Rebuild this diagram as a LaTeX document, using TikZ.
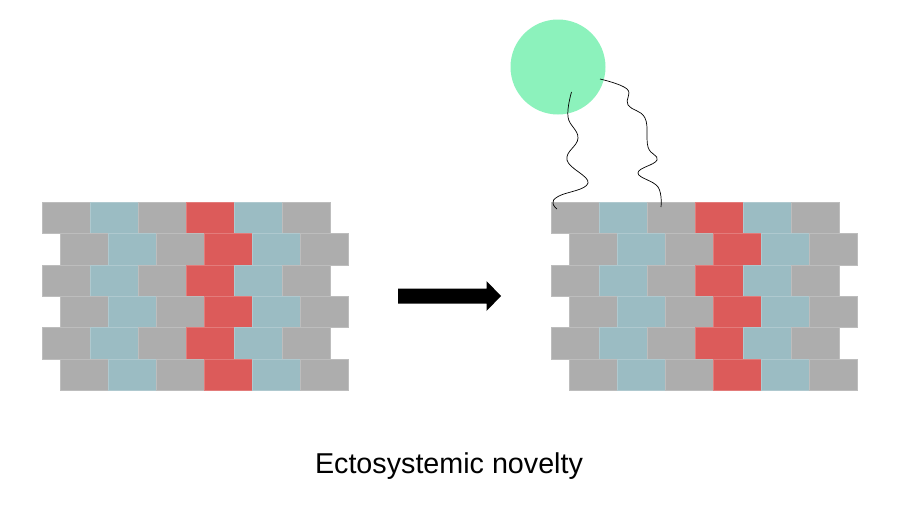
\documentclass[tikz,border=0pt]{standalone}
\usepackage{fontspec}
\setmainfont{Liberation Sans}
\definecolor{brickgray}{HTML}{ADADAD}
\definecolor{brickblue}{HTML}{9BBCC3}
\definecolor{brickred}{HTML}{DC5B5A}
\definecolor{ballgreen}{HTML}{8CF2BC}
\tikzset{
  brick/.style={line width=0.3pt},
  tether/.style={draw=black, line width=0.7pt}
}
% wall of bricks, upper left corner of the top row at (#1,#2)
\newcommand{\brickwall}[2]{%
  \foreach \r in {0,...,5}{
    \pgfmathsetmacro{\shift}{mod(\r,2)*18}
    \foreach \c/\col in {0/brickgray,1/brickblue,2/brickgray,3/brickred,4/brickblue,5/brickgray}{
      \filldraw[fill=\col, draw=\col!80!white, brick] ({#1+\shift+\c*48},{#2+\r*31.33}) rectangle ++(48,31.33);
    }
  }
}
\begin{document}
\begin{tikzpicture}[x=1pt,y=-1pt]
\useasboundingbox (0,0) rectangle (918,514);
%LEFT WALL
\brickwall{42}{202}
%RIGHT WALL
\brickwall{551}{202}
%ARROW
\fill[black] (398,288.5) -- (486.5,288.5) -- (486.5,281) -- (501,296) -- (486.5,311) -- (486.5,303.5) -- (398,303.5) -- cycle;
%BALL AND TETHERS
\node[circle, fill=ballgreen, minimum size=95pt, inner sep=0pt] (ball) at (558,67) {};
\coordinate (a) at (571.5,92);
\coordinate (b) at (600,79);
\draw[tether] plot[smooth, tension=0.7] coordinates {(a) (568,117) (578,138) (567,160) (588,183) (559,196) (553,203) (557,209)};
\draw[tether] plot[smooth, tension=0.7] coordinates {(b) (627,89) (628,105) (645,118) (648,147) (657,160) (638,173) (658,187) (661,207)};
%CAPTION
\node[font=\fontsize{28.7}{34}\selectfont, anchor=base] (caption) at (449,473.3) {Ectosystemic novelty};
\end{tikzpicture}
\end{document}
